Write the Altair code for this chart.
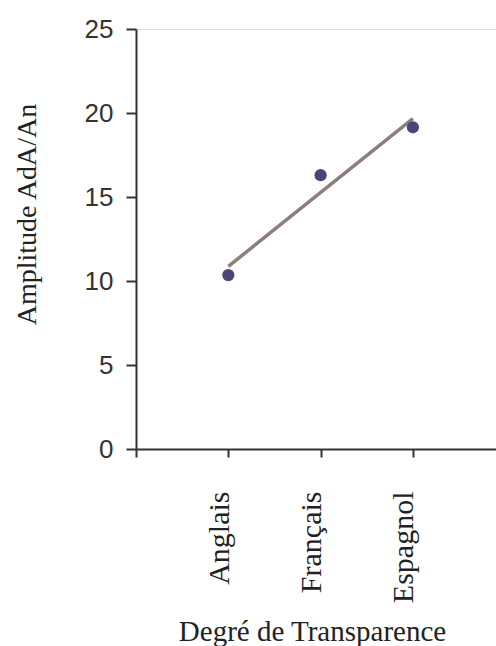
import altair as alt
import pandas as pd

# Languages ordered by orthographic transparency, with the measured amplitude
langues = ["Anglais", "Français", "Espagnol"]
rang = [1, 2, 3]
amplitude = [10.35, 16.3, 19.15]

df = pd.DataFrame({"rang": rang, "langue": langues, "amplitude": amplitude})

serif = "Liberation Serif"
sans = "Liberation Sans"

label_expr = "[''," + ",".join(f"'{l}'" for l in langues) + "][datum.value]"

x_enc = alt.X(
    "rang:Q",
    scale=alt.Scale(domain=[0, 3.9], nice=False, zero=False),
    axis=alt.Axis(
        title="Degré de Transparence",
        values=[0, 1, 2, 3],
        labelExpr=label_expr,
        labelAngle=-90,
        labelAlign="right",
        labelBaseline="alphabetic",
        labelFont=serif,
        labelFontSize=30,
        labelColor="#222222",
        labelPadding=34,
        tickSize=8,
        tickWidth=2,
        tickColor="#333333",
        domainColor="#333333",
        domainWidth=2,
        grid=False,
        titleFont=serif,
        titleFontSize=29,
        titleFontWeight="normal",
        titleColor="#222222",
        titleX=176,
        titleY=191,
        titleAlign="center",
        titleBaseline="alphabetic",
    ),
)

y_enc = alt.Y(
    "amplitude:Q",
    scale=alt.Scale(domain=[0, 25], nice=False),
    axis=alt.Axis(
        title="Amplitude AdA/An",
        values=[0, 5, 10, 15, 20, 25],
        labelFont=sans,
        labelFontSize=26,
        labelColor="#333333",
        labelPadding=13,
        tickSize=10,
        tickWidth=2,
        tickColor="#333333",
        domainColor="#333333",
        domainWidth=2,
        grid=False,
        titleFont=serif,
        titleFontSize=28,
        titleFontWeight="normal",
        titleColor="#222222",
        titleAngle=-90,
        titleX=-101,
        titleY=185,
        titleAlign="center",
        titleBaseline="alphabetic",
    ),
)

base = alt.Chart(df)

points = base.mark_point(
    filled=True, shape="circle", size=150, color="#4A4777", opacity=1
).encode(x=x_enc, y=y_enc)

trend = (
    base.transform_regression("rang", "amplitude")
    .mark_line(color="#8C7E80", strokeWidth=3.5)
    .encode(x="rang:Q", y="amplitude:Q")
)

chart = (
    alt.layer(trend, points)
    .properties(
        width=360,
        height=420,
        padding={"left": 136, "top": 29, "right": 0, "bottom": 197},
        autosize=alt.AutoSizeParams(type="none"),
    )
    .configure_view(stroke=None)
    .configure(background="white")
)

chart.save("out.html", embed_options={"renderer": "svg", "actions": False})
